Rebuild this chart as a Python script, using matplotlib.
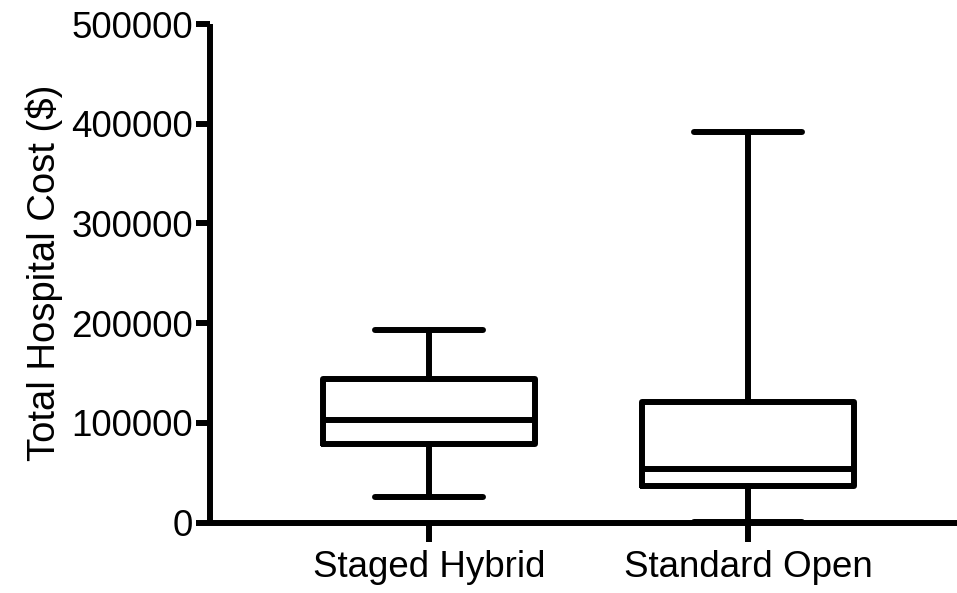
import matplotlib
matplotlib.use("Agg")
import matplotlib.pyplot as plt

# box summary values
groups = ["Staged Hybrid", "Standard Open"]
whisker_low = [25600, 800]
quartile1 = [78700, 36600]
medians = [102800, 53700]
quartile3 = [143900, 120900]
whisker_high = [193100, 391600]
yticks = [0, 100000, 200000, 300000, 400000, 500000]


def main():
    plt.rcParams["font.family"] = ["Liberation Sans", "DejaVu Sans"]
    lw = 4.3

    fig = plt.figure(figsize=(9.57, 5.93), dpi=100)
    ax = fig.add_axes([210 / 957, 1 - 522.5 / 593, 1 - 210 / 957, (522.5 - 24) / 593])

    stats = []
    for i, name in enumerate(groups):
        stats.append({"label": name, "whislo": whisker_low[i], "q1": quartile1[i],
                      "med": medians[i], "q3": quartile3[i], "whishi": whisker_high[i],
                      "fliers": []})

    line = dict(color="black", linewidth=lw, solid_capstyle="round", solid_joinstyle="round")
    ax.bxp(stats, positions=[1, 2], widths=0.665, capwidths=0.34, showfliers=False,
           boxprops=line, whiskerprops=line, capprops=line,
           medianprops=dict(color="black", linewidth=lw))

    ax.set_xlim(1 - 219 / 319, 2 + 209 / 319)
    ax.set_ylim(0, 500000)
    ax.set_yticks(yticks)
    ax.set_yticklabels([str(v) for v in yticks])
    ax.set_xticks([1, 2])
    ax.set_xticklabels(groups)

    for s in ["top", "right"]:
        ax.spines[s].set_visible(False)
    for s in ["left", "bottom"]:
        ax.spines[s].set_linewidth(lw)
        ax.spines[s].set_capstyle("butt")

    ax.tick_params(axis="y", length=10, width=lw, labelsize=26.5, pad=2)
    ax.tick_params(axis="x", length=14, width=lw, labelsize=26.5, pad=6)
    ax.set_ylabel("Total Hospital Cost ($)", fontsize=27.5, labelpad=6)

    fig.savefig("out.png", dpi=100)


if __name__ == "__main__":
    main()
